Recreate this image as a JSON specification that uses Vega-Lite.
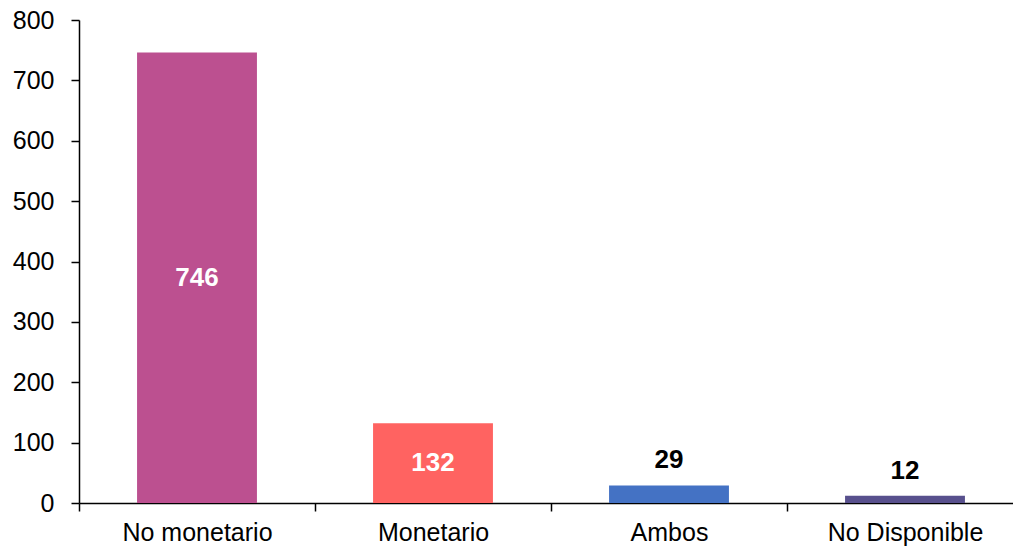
{
  "$schema": "https://vega.github.io/schema/vega-lite/v6.json",
  "width": 944,
  "height": 483,
  "autosize": "none",
  "padding": {"left": 79, "top": 20, "right": 0, "bottom": 47},
  "background": "white",
  "config": {
    "view": {"stroke": null},
    "font": "Liberation Sans",
    "axis": {"grid": false, "domainColor": "black", "tickColor": "black", "domainWidth": 1.5, "tickWidth": 1.5, "labelColor": "black", "labelFontSize": 25, "labelFont": "Liberation Sans", "title": null}
  },
  "data": {"values": [
    {"category": "No monetario", "value": 746, "inside": true},
    {"category": "Monetario", "value": 132, "inside": true},
    {"category": "Ambos", "value": 29, "inside": false},
    {"category": "No Disponible", "value": 12, "inside": false}
  ]},
  "layer": [
    {
      "mark": {"type": "bar", "width": {"band": 0.508}},
      "encoding": {
        "x": {"field": "category", "type": "nominal", "sort": null,
              "scale": {"paddingInner": 0, "paddingOuter": 0},
              "axis": {"labelAngle": 0, "tickBand": "extent", "tickSize": 8, "labelPadding": 9}},
        "y": {"field": "value", "type": "quantitative",
              "scale": {"domain": [0, 800], "nice": false},
              "axis": {"values": [0,100,200,300,400,500,600,700,800], "tickSize": 8, "labelPadding": 17}},
        "color": {"field": "category", "type": "nominal", "sort": null, "legend": null,
                  "scale": {"domain": ["No monetario", "Monetario", "Ambos", "No Disponible"],
                            "range": ["#bc5090", "#ff6361", "#4472c4", "#58508d"]}}
      }
    },
    {
      "transform": [{"filter": "datum.inside"}],
      "mark": {"type": "text", "fontWeight": "bold", "fontSize": 26, "color": "white", "baseline": "middle", "align": "center"},
      "encoding": {
        "x": {"field": "category", "type": "nominal", "sort": null},
        "y": {"field": "value", "type": "quantitative", "scale": {"domain": [0, 1600], "nice": false}, "axis": null},
        "text": {"field": "value", "type": "quantitative"}
      }
    },
    {
      "transform": [{"filter": "!datum.inside"}],
      "mark": {"type": "text", "fontWeight": "bold", "fontSize": 26, "color": "black", "baseline": "alphabetic", "align": "center", "dy": -17},
      "encoding": {
        "x": {"field": "category", "type": "nominal", "sort": null},
        "y": {"field": "value", "type": "quantitative", "scale": {"domain": [0, 800], "nice": false}, "axis": null},
        "text": {"field": "value", "type": "quantitative"}
      }
    }
  ],
  "resolve": {"scale": {"y": "independent"}}
}
